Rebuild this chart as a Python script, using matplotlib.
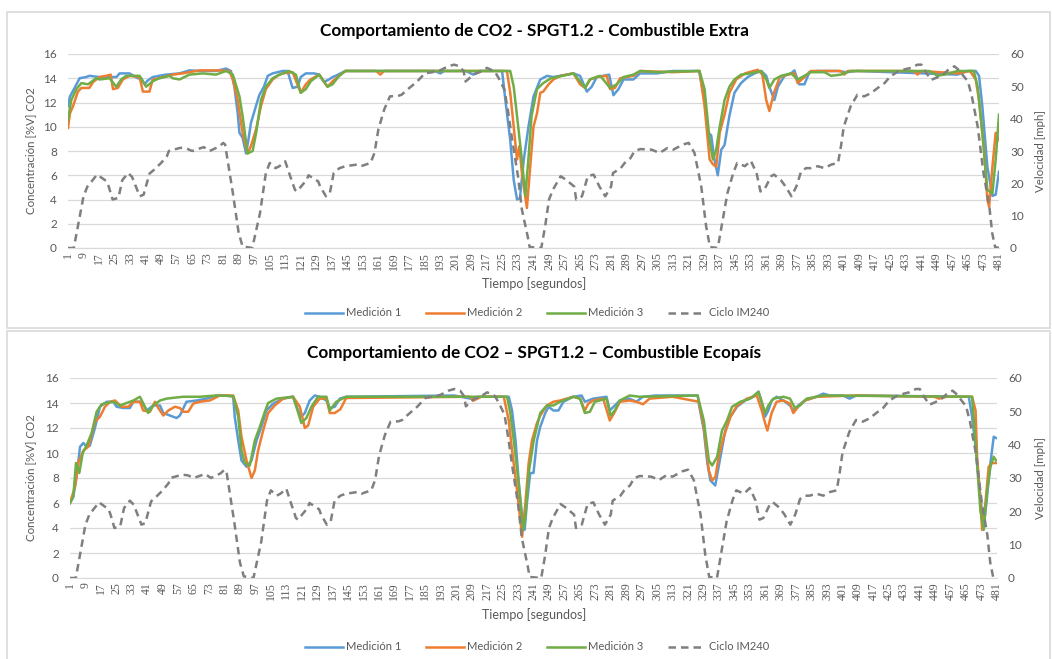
import matplotlib
matplotlib.use("Agg")
import matplotlib.pyplot as plt
from matplotlib.patches import Rectangle

# ---------------- data ----------------
# IM240 speed trace [mph], same in both charts
ciclo_x = [1, 4, 9, 11, 16, 21, 22, 24, 27, 29, 32, 34, 38, 40, 43, 45, 49, 52, 53, 59, 62, 65,
           71, 74, 79, 81, 82, 86, 89, 91, 96, 100, 103, 105, 108, 110, 113, 115, 118, 119, 124,
           125, 130, 131, 134, 136, 138, 141, 144, 150, 152, 157, 159, 161, 164, 167, 171, 173,
           176, 181, 185, 191, 193, 197, 200, 203, 205, 206, 210, 214, 217, 221, 223, 226, 228,
           230, 233, 235, 238, 239, 245, 247, 249, 251, 255, 258, 262, 263, 266, 269, 272, 275,
           278, 281, 282, 286, 288, 291, 293, 296, 302, 306, 310, 313, 318, 321, 324, 327.5, 330,
           332, 336, 338.6, 341, 344, 346, 350, 353, 356, 358, 360, 363.5, 365, 368.5, 371, 374,
           376.5, 379, 381.5, 384, 387.5, 391, 394.5, 398, 399.5, 401, 404.5, 408, 411.5, 415,
           418.5, 422, 425, 429, 432, 435.5, 439, 441, 443, 446, 448.5, 452, 455, 458, 460, 465,
           467, 470, 473, 476, 477.5, 479, 481]
ciclo_v = [0, 0, 16, 19, 22.7, 20.6, 19, 15, 15.5, 21, 23.2, 22, 16, 16.5, 23, 24, 26.3, 28.4, 30,
           31, 30.8, 30, 31.2, 30, 31.4, 32.5, 32, 17, 4.6, 0.5, 0, 10.8, 23.2, 26.3, 24.7, 25.3,
           26.8, 23.2, 18, 17.5, 21, 22.5, 20.6, 19, 16, 17, 23.2, 24.7, 25.3, 25.8, 25.3, 26.3,
           29.4, 36.6, 42.8, 46.9, 47, 47.4, 49, 51.5, 54, 54.6, 55, 56.2, 56.7, 56.2, 54.6, 51.5,
           53.6, 54.6, 55.7, 54.6, 52.6, 49, 41.8, 33.5, 22.2, 11.9, 3.6, 0.3, 0, 6.7, 15, 18,
           22.2, 21, 19, 15, 16, 22.2, 22.7, 19, 16, 19, 23.2, 24.7, 26.3, 27.8, 29.9, 30.6, 30.4,
           29.4, 30.9, 30.4, 32, 32.5, 29.4, 19, 6.7, 0.3, 0, 8.8, 17, 23.2, 26.3, 25.3, 27, 23.2,
           17.5, 18, 22.2, 22.7, 21, 19, 16, 19, 23.7, 24.7, 24.7, 25.3, 24.7, 25.8, 26.3, 31.4,
           37.6, 43.8, 47.4, 46.9, 47.9, 49.5, 51, 53.1, 54.6, 55.2, 55.7, 56.7, 56.7, 54.6, 52,
           52.6, 53.6, 55.2, 56.2, 55.2, 51.5, 46.9, 37.6, 23.2, 12.9, 4.6, 0.3, 0]

# Combustible Extra - CO2 [%V]
extra_m1_x = [1, 2, 4.4, 7, 10.4, 12, 17, 22, 26, 27.6, 32.7, 37, 38.7, 40.5, 42, 44.7, 48, 51.6,
              58.5, 63.6, 68.8, 77.3, 82.5, 85, 86.8, 88.5, 89.4, 91, 92.8, 94, 95.3, 97.9, 99.6,
              102, 104, 106.5, 111.6, 114.2, 116.8, 119.4, 121, 123.6, 128, 130.5, 133, 135.6,
              137.4, 139, 144, 150, 190, 193, 195, 206, 210, 213, 224.8, 226.5, 229, 230.8, 232.5,
              234, 236, 238.4, 241, 244.5, 248, 251, 255, 261.6, 265, 268.5, 271, 273.6, 277, 280,
              282.2, 284.8, 287.4, 292.5, 295.9, 304.5, 313, 326, 326.6, 329.2, 331, 332.6, 334.3,
              336, 337.8, 339.5, 342, 344.6, 348, 351.5, 355, 358.4, 361, 362.6, 365.2, 367, 370.4,
              373.8, 375.5, 378, 380.7, 383.2, 387.5, 398, 402, 408, 459.6, 464.7, 469, 470.7,
              472.4, 475, 477.6, 479.3, 481]
extra_m1 = [11.7, 12.5, 13.2, 14.0, 14.1, 14.2, 14.1, 14.1, 14.1, 14.4, 14.4, 14.0, 14.0, 13.5,
            13.8, 14.1, 14.2, 14.3, 14.4, 14.65, 14.6, 14.6, 14.8, 14.6, 13.3, 11.1, 9.5, 9.1, 7.8,
            8.9, 10.3, 11.7, 12.6, 13.3, 14.2, 14.4, 14.6, 14.6, 13.2, 13.3, 14.1, 14.4, 14.4,
            14.3, 13.7, 13.9, 14.1, 14.2, 14.6, 14.6, 14.6, 14.4, 14.6, 14.6, 14.3, 14.6, 14.6,
            12.2, 8.9, 5.6, 4.0, 4.1, 7.3, 10.0, 12.5, 13.9, 14.2, 14.1, 14.2, 14.4, 14.2, 12.9,
            13.3, 14.1, 14.2, 14.3, 12.6, 13.1, 13.9, 13.9, 14.4, 14.4, 14.6, 14.6, 14.4, 12.2,
            9.5, 9.3, 7.3, 6.0, 8.1, 8.5, 10.9, 12.8, 13.6, 14.1, 14.4, 14.6, 14.2, 13.3, 12.2,
            13.3, 14.2, 14.4, 14.65, 13.5, 13.5, 14.5, 14.6, 14.6, 14.5, 14.6, 14.3, 14.6, 14.6,
            14.2, 11.7, 6.7, 4.3, 4.4, 6.3]

extra_m2_x = [1, 2, 3.6, 6.1, 7.9, 12, 14, 17.3, 20.7, 23, 24.2, 26.7, 29.3, 32.7, 37.9, 39.6, 43,
              44.7, 48, 55, 60, 68.8, 77.3, 84.2, 86, 88.5, 91, 93.6, 95.3, 98, 100.5, 103, 106.5,
              109, 111.6, 116.8, 121, 123.6, 126, 130.5, 134.8, 137.4, 140.8, 144, 160, 162, 164,
              227.3, 229, 230.8, 232.5, 233.7, 235, 237.6, 239.3, 241, 242.8, 244.5, 246, 248.8,
              251.3, 254.8, 261.6, 265, 267.6, 270.2, 273.6, 278.8, 280.5, 283, 285.7, 292.5, 296,
              313, 326.6, 329.2, 331.8, 333.5, 335.2, 337, 339.5, 342, 345.5, 350, 356.6, 359, 361,
              362.6, 365, 368, 372, 375.5, 377.2, 380, 384, 399.5, 401.2, 403, 437, 439, 441,
              459.6, 466, 469, 470.7, 473.3, 475, 475.9, 477.6, 479.3, 481]
extra_m2 = [9.9, 11.1, 11.7, 12.9, 13.2, 13.2, 13.7, 14.1, 14.2, 14.3, 13.1, 13.2, 13.9, 14.2,
            14.1, 12.9, 12.9, 13.9, 14.0, 14.3, 14.4, 14.65, 14.65, 14.6, 13.9, 12.2, 9.5, 7.8,
            8.4, 9.8, 11.7, 13.1, 13.9, 14.2, 14.4, 14.5, 12.8, 13.5, 13.9, 14.3, 13.3, 13.75,
            14.2, 14.6, 14.6, 14.3, 14.6, 14.6, 12.8, 10.0, 7.3, 8.4, 6.2, 3.3, 6.7, 10.0, 11.1,
            12.8, 12.9, 13.5, 13.9, 14.2, 14.4, 13.5, 13.2, 13.9, 14.1, 14.2, 13.1, 13.2, 14.0,
            14.2, 14.6, 14.5, 14.6, 11.7, 7.3, 6.9, 6.7, 9.5, 11.0, 12.8, 13.9, 14.4, 14.7, 14.3,
            12.2, 11.3, 12.8, 14.1, 14.3, 14.4, 13.6, 14.0, 14.6, 14.6, 14.3, 14.6, 14.6, 14.3,
            14.6, 14.4, 14.6, 13.9, 12.2, 8.1, 4.0, 3.4, 6.7, 9.5, 8.9]

extra_m3_x = [1, 2.7, 5.3, 7.9, 11.3, 15.6, 17.3, 22.4, 25.9, 28.4, 31, 37.9, 41.3, 44.7, 48,
              53.3, 55, 58.5, 63.6, 70.5, 77.3, 82.5, 86, 89.4, 91, 93.6, 96.2, 98, 100.5, 103,
              106.5, 110, 115, 118.5, 121, 123.6, 126.2, 130.5, 134.8, 137.4, 140.8, 144, 229,
              230.8, 232.5, 235, 236.8, 238.5, 240, 242.8, 246, 250, 253, 261.6, 265, 267.6, 270,
              275.4, 280.5, 283.9, 287.4, 292.5, 296, 304.5, 313, 326.6, 329.2, 331.8, 333.5,
              335.2, 337, 339.5, 342, 344.6, 348, 353, 358.4, 361, 362.6, 365.2, 368.7, 373.8,
              377.2, 380.7, 384, 391, 394.4, 399.5, 404.7, 445, 449.3, 452.7, 459.6, 468, 470,
              472.4, 475, 477.6, 479.3, 481]
extra_m3 = [10.6, 12.2, 13.1, 13.6, 13.5, 14.0, 13.9, 14.0, 13.3, 13.9, 14.2, 14.2, 13.3, 13.75,
            14.0, 14.2, 14.0, 13.9, 14.3, 14.4, 14.3, 14.6, 14.3, 12.5, 10.9, 7.8, 8.0, 9.5, 12.2,
            13.3, 14.0, 14.3, 14.6, 14.3, 12.8, 13.1, 13.75, 14.3, 13.3, 13.5, 14.2, 14.6, 14.6,
            13.3, 10.9, 7.3, 4.3, 7.6, 10.9, 13.1, 13.6, 14.0, 14.1, 14.4, 13.75, 13.2, 13.9,
            14.2, 13.2, 13.5, 14.1, 14.3, 14.6, 14.5, 14.55, 14.6, 13.1, 8.9, 7.3, 8.1, 10.0,
            12.2, 13.3, 13.9, 14.3, 14.4, 14.6, 13.9, 13.2, 13.9, 14.2, 14.4, 13.9, 14.2, 14.5,
            14.5, 14.2, 14.3, 14.6, 14.6, 14.2, 14.3, 14.6, 14.6, 13.3, 9.5, 4.8, 4.5, 7.3, 11.0]

# Combustible Ecopaís - CO2 [%V]
eco_m1_x = [1, 2.7, 4.4, 6.2, 7.9, 9.6, 11.3, 13.9, 16.5, 20, 23.4, 25.1, 28.6, 32, 33.8, 38.1,
            40.7, 44.1, 47.6, 49.3, 52.7, 56.2, 57.9, 61.3, 66.5, 71.7, 76.9, 82, 85.5, 86.3, 88.1,
            89.8, 92.4, 95, 97.6, 100.1, 102.7, 106.2, 111.3, 116.5, 119.1, 120.8, 122.6, 125.1,
            127.7, 130.3, 133.8, 135.5, 138.1, 140.7, 144.1, 200, 210, 212, 228.2, 229.9, 231.7,
            233.3, 235.1, 236.4, 237.6, 239.3, 241, 242.8, 244.5, 247.1, 248.8, 251.3, 253.9,
            256.5, 261.6, 265.9, 267.6, 269.4, 271.9, 278.8, 280.5, 283.1, 285.7, 290.8, 294.2,
            297.7, 304.5, 326, 326.6, 329.2, 331, 332.6, 335.1, 337.8, 340.3, 342.9, 346.4,
            350.6, 354.9, 357.5, 359.2, 360.9, 362.6, 364.3, 366.9, 370.4, 373.8, 375.5, 378.1,
            381.5, 387.5, 391, 394.4, 401.2, 404.7, 408.1, 466.4, 468.1, 469.9, 472.4, 474.1,
            475.5, 477.6, 479.3, 480.5]
eco_m1 = [6.0, 6.5, 8.1, 10.5, 10.8, 10.5, 10.6, 12.0, 13.7, 14.1, 14.1, 13.7, 13.6, 13.6, 14.1,
          14.1, 13.4, 13.8, 13.8, 13.2, 13.0, 12.8, 13.0, 14.1, 14.2, 14.35, 14.6, 14.6, 14.5,
          12.9, 11.0, 9.4, 8.9, 9.4, 11.0, 12.1, 13.4, 13.95, 14.35, 14.5, 13.4, 12.9, 13.2, 14.2,
          14.6, 14.5, 14.2, 13.6, 13.7, 14.35, 14.5, 14.6, 14.3, 14.5, 14.5, 13.4, 11.0, 7.8, 4.9,
          3.85, 6.0, 8.4, 8.4, 11.0, 12.1, 13.2, 13.7, 13.4, 13.4, 14.1, 14.5, 14.6, 14.1, 14.2,
          14.35, 14.5, 13.4, 13.8, 14.2, 14.35, 14.1, 14.5, 14.6, 14.6, 13.95, 11.8, 9.2, 7.8, 7.4,
          9.7, 11.8, 12.9, 13.7, 14.2, 14.5, 14.9, 14.0, 12.9, 13.4, 14.2, 14.5, 14.2, 13.8,
          13.4, 13.8, 14.2, 14.5, 14.75, 14.6, 14.6, 14.35, 14.6, 14.5, 12.9, 10.5, 6.5, 4.1,
          6.0, 9.2, 11.3, 11.2]

eco_m2_x = [1, 3.6, 5.3, 7.9, 10.5, 13.9, 16.5, 19.1, 21.7, 24.3, 27.7, 31.2, 33.8, 37.2, 38.9,
            42.4, 45, 46.7, 49.3, 51.9, 55.3, 57.9, 59.6, 62.2, 64.8, 68.2, 73.4, 78.6, 85.5, 88.1,
            89.8, 92.4, 95, 96.7, 98.4, 101, 103.6, 107, 111.3, 116.5, 120, 122.6, 124.3, 126.9,
            130.3, 133.8, 135.5, 138.1, 141, 144, 208, 210, 214, 225.6, 228.2, 229.9, 232.5,
            235.1, 236.8, 238.5, 240.2, 242.8, 244.5, 247.9, 251.3, 254.8, 261.6, 265.1, 267.6,
            269.4, 271.9, 277.1, 280.5, 283.1, 285.7, 290.8, 294.2, 297.7, 301.1, 313, 326.6,
            329.2, 331.8, 333.5, 335.2, 336.9, 339.5, 343, 346.4, 351.5, 356.6, 359.2, 360.9,
            362.1, 364.3, 366.9, 370.4, 373.8, 375.5, 378.1, 381.5, 387.5, 408, 448.4, 451, 455,
            468.1, 469.9, 470.7, 472.4, 473.3, 475, 476.7, 478.4, 480.5]
eco_m2 = [6.0, 7.3, 9.2, 10.2, 10.5, 12.5, 12.9, 13.7, 14.1, 14.2, 13.7, 13.7, 14.1, 14.1, 13.4,
          13.3, 14.1, 13.6, 13.0, 13.4, 13.7, 13.6, 13.3, 13.3, 13.95, 14.1, 14.2, 14.6, 14.6, 13.4,
          11.3, 9.4, 8.0, 8.6, 10.2, 11.8, 13.2, 13.8, 14.35, 14.5, 13.7, 12.0, 12.2, 13.7, 14.35,
          14.35, 13.2, 13.2, 13.5, 14.4, 14.5, 14.2, 14.5, 14.5, 12.6, 10.2, 7.0, 3.3, 6.0, 9.2,
          11.0, 12.4, 13.0, 13.8, 14.1, 14.2, 14.5, 14.35, 13.4, 13.95, 14.2, 14.35, 12.6, 13.3,
          14.1, 14.2, 14.1, 13.9, 14.35, 14.5, 14.1, 12.1, 8.6, 7.8, 8.1, 9.7, 11.3, 12.9, 13.8,
          14.35, 14.6, 13.4, 12.4, 11.8, 13.2, 14.1, 14.2, 13.95, 13.2, 13.7, 14.2, 14.5, 14.6,
          14.5, 14.35, 14.5, 14.5, 13.4, 9.7, 6.2, 3.85, 6.0, 8.9, 9.2, 9.2]

eco_m3_x = [1, 2.7, 4.1, 5.8, 7.6, 9.6, 12.2, 14.8, 17.4, 20, 23.4, 26.9, 30.3, 33.8, 37.2, 39.8,
            41.5, 44.1, 47.6, 51, 59.6, 68.2, 76.9, 85.5, 88.1, 89.8, 91.5, 94.1, 96.7, 99.3,
            101.9, 103.6, 107.9, 116.5, 118.2, 120.8, 123.4, 126, 129.4, 133.8, 135.5, 138.9,
            144, 227.3, 229, 230.8, 233.3, 235.6, 236.8, 238.5, 241.1, 244.5, 247.9, 251.3, 254.8,
            261.6, 265.1, 267.6, 270.2, 272.8, 278.8, 280.9, 283.1, 285.7, 290.8, 295.9, 326,
            326.6, 329.2, 331.8, 333.5, 336.1, 338.6, 341.2, 343.8, 348.1, 353.2, 357.5, 359.2,
            360.9, 362.6, 365.2, 370.4, 373.8, 376.4, 378.9, 382.4, 391, 468.1, 469.9, 472.4,
            474.1, 475.9, 477.6, 479.3, 480.5]
eco_m3 = [6.0, 6.5, 9.2, 8.4, 10.0, 10.6, 11.6, 13.3, 13.9, 14.0, 14.1, 13.8, 14.0, 14.2, 14.5,
          13.7, 13.2, 13.8, 14.2, 14.35, 14.5, 14.5, 14.6, 14.55, 12.9, 10.2, 9.2, 9.0, 11.0, 12.1,
          13.3, 14.0, 14.35, 14.5, 13.7, 12.4, 12.8, 13.7, 14.5, 14.5, 13.4, 14.1, 14.5, 14.5,
          13.2, 11.0, 7.6, 3.85, 4.9, 8.4, 11.0, 13.2, 13.8, 13.8, 14.1, 14.5, 14.35, 13.2, 13.3,
          14.1, 14.35, 13.0, 13.4, 14.2, 14.6, 14.5, 14.6, 14.2, 12.6, 9.4, 9.0, 9.7, 11.8, 12.6,
          13.7, 14.1, 14.35, 14.9, 14.1, 13.2, 13.8, 14.35, 14.5, 14.35, 13.6, 13.8, 14.35, 14.6,
          14.5, 10.8, 5.4, 3.85, 7.0, 8.9, 9.7, 9.4]

x_ticks = list(range(1, 482, 8))
series_names = ["Medición 1", "Medición 2", "Medición 3", "Ciclo IM240"]
colors = ["#5B9BD5", "#ED7D31", "#70AD47", "#7F7F7F"]

W, H = 1052, 659
fig = plt.figure(figsize=(W / 100, H / 100), dpi=100)
txt = "#595959"
font = "Lato"


def px_axes(x0, y0, x1, y1):
    # pixel box (top-left origin) -> figure axes
    return fig.add_axes([x0 / W, 1 - y1 / H, (x1 - x0) / W, (y1 - y0) / H])


def chart(box, plot, title, title_y, xlab_y, leg_y, meds):
    bx0, by0, bx1, by1 = box
    fig.patches.append(Rectangle((bx0 / W, 1 - by1 / H), (bx1 - bx0) / W, (by1 - by0) / H,
                                 transform=fig.transFigure, fill=False,
                                 edgecolor="#D9D9D9", lw=1.2))
    ax = px_axes(*plot)
    handles = []
    for (xs, ys), c, n in zip(meds, colors[:3], series_names[:3]):
        h, = ax.plot(xs, ys, color=c, lw=1.8, label=n, zorder=3)
        handles.append(h)
    ax.set_xlim(1, 481)
    ax.set_ylim(0, 16)
    ax.set_yticks(range(0, 17, 2))
    ax.set_xticks(x_ticks)
    ax.set_xticklabels([str(t) for t in x_ticks], rotation=90, fontsize=8.5,
                       family="Liberation Serif", color=txt)
    ax.tick_params(axis="y", labelsize=8.5, labelcolor=txt, length=0, pad=8)
    ax.tick_params(axis="x", length=0, pad=3)
    for lab in ax.get_yticklabels():
        lab.set_family(font)
    ax.grid(axis="y", color="#D9D9D9", lw=0.9)
    ax.set_axisbelow(True)
    for s in ["top", "left", "right"]:
        ax.spines[s].set_visible(False)
    ax.spines["bottom"].set_color("#D9D9D9")

    ax2 = ax.twinx()
    h2, = ax2.plot(ciclo_x, ciclo_v, color=colors[3], lw=1.8, ls=(0, (3, 2)),
                   label=series_names[3], zorder=4)
    handles.append(h2)
    ax2.set_ylim(0, 60)
    ax2.set_yticks(range(0, 61, 10))
    ax2.tick_params(axis="y", labelsize=8.5, labelcolor=txt, length=0, pad=8)
    for lab in ax2.get_yticklabels():
        lab.set_family(font)
    for s in ax2.spines.values():
        s.set_visible(False)

    px0, py0, px1, py1 = plot
    fig.text(534 / W, 1 - title_y / H, title, ha="center", va="center",
             fontsize=12.3, fontweight="bold", family=font, color="#000000")
    fig.text(534 / W, 1 - xlab_y / H, "Tiempo [segundos]", ha="center",
             va="center", fontsize=9, family=font, color=txt)
    fig.text(31 / W, 1 - (py0 + py1) / 2 / H, "Concentración [%V] CO2", rotation=90,
             ha="center", va="center", fontsize=8.3, family=font, color=txt)
    fig.text(1040 / W, 1 - (py0 + py1) / 2 / H, "Velocidad [mph]", rotation=90,
             ha="center", va="center", fontsize=8.3, family=font, color=txt)
    leg = fig.legend(handles=handles, labels=series_names, loc="center",
                     bbox_to_anchor=(537 / W, 1 - leg_y / H), ncol=4, frameon=False,
                     prop={"family": font, "size": 8}, handlelength=3.4,
                     columnspacing=2.2, handletextpad=0.3)
    for t in leg.get_texts():
        t.set_color(txt)


chart((7, 12, 1050, 328), (68, 54, 999, 248),
      "Comportamiento de CO2 - SPGT1.2 - Combustible Extra", 31, 284, 313,
      [(extra_m1_x, extra_m1), (extra_m2_x, extra_m2), (extra_m3_x, extra_m3)])
chart((7, 331, 1050, 662), (70, 378, 997, 578),
      "Comportamiento de CO2 – SPGT1.2 – Combustible Ecopaís", 353, 615, 647,
      [(eco_m1_x, eco_m1), (eco_m2_x, eco_m2), (eco_m3_x, eco_m3)])

fig.savefig("out.png", dpi=100)
